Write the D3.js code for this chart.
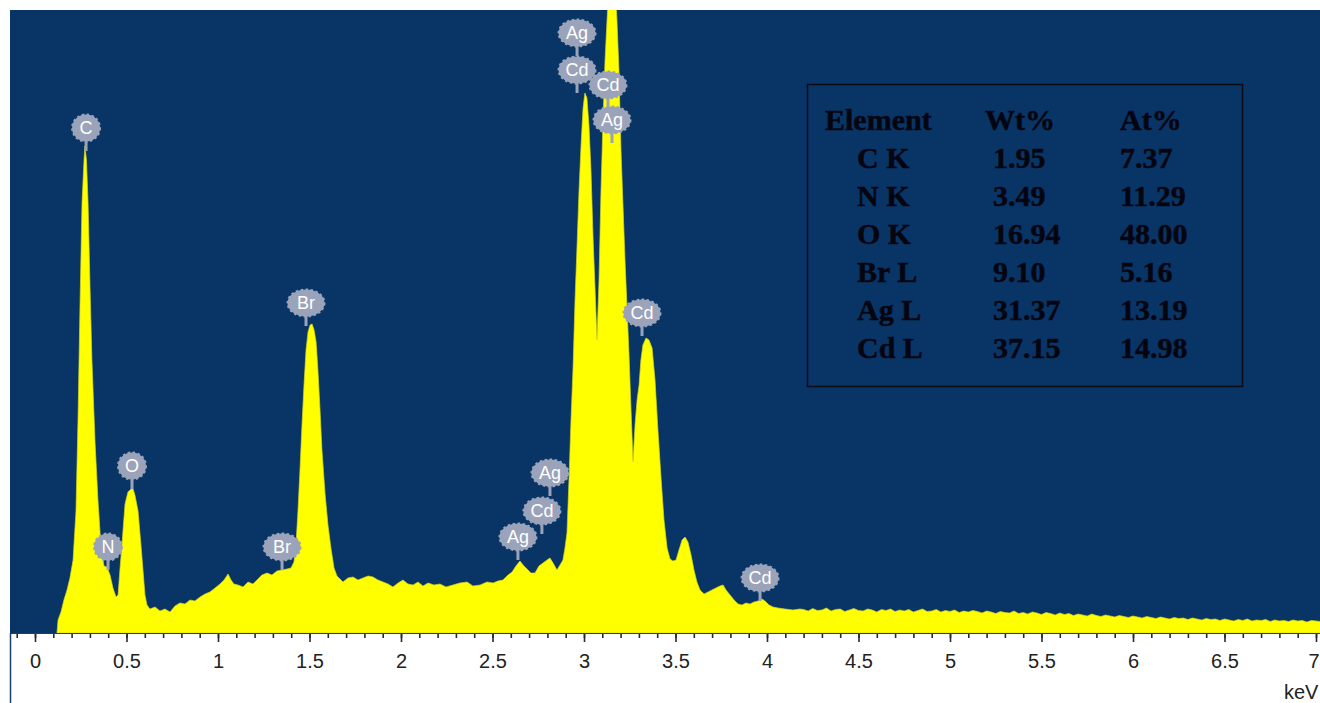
<!DOCTYPE html>
<html>
<head>
<meta charset="utf-8">
<script src="https://cdn.jsdelivr.net/npm/d3@7"></script>
<style>
  html, body { margin: 0; padding: 0; background: #fff; }
  svg { display: block; }
</style>
</head>
<body>
<div id="chart"></div>
<script>
// EDS spectrum: [keV, counts]
const spectrum = [
  [0.120, 0], [0.126, 130], [0.142, 210], [0.158, 330], [0.175, 430], [0.191, 550],
  [0.208, 730], [0.224, 1220], [0.235, 2130], [0.246, 3280], [0.257, 4300], [0.268, 4730],
  [0.273, 4870], [0.281, 4730], [0.290, 4300], [0.301, 3430], [0.311, 2730], [0.328, 1910],
  [0.344, 1330], [0.361, 850], [0.377, 670], [0.393, 660], [0.410, 580], [0.426, 450],
  [0.443, 360], [0.454, 380], [0.464, 630], [0.475, 880], [0.492, 1290], [0.508, 1410],
  [0.525, 1440], [0.536, 1440], [0.546, 1380], [0.563, 1220], [0.579, 880], [0.590, 630],
  [0.601, 380], [0.612, 280], [0.628, 240], [0.656, 260], [0.683, 220], [0.710, 240],
  [0.738, 210], [0.765, 270], [0.792, 300], [0.820, 290], [0.847, 330], [0.874, 320],
  [0.902, 360], [0.929, 390], [0.956, 410], [0.984, 450], [1.011, 490], [1.033, 530],
  [1.055, 590], [1.071, 530], [1.087, 490], [1.109, 480], [1.137, 460], [1.164, 510],
  [1.191, 490], [1.213, 530], [1.240, 580], [1.268, 600], [1.295, 580], [1.322, 620],
  [1.350, 630], [1.377, 640], [1.399, 650], [1.415, 710], [1.426, 880], [1.437, 1220],
  [1.448, 1630], [1.459, 2080], [1.470, 2480], [1.481, 2830], [1.492, 3010], [1.503, 3080],
  [1.514, 3090], [1.525, 3030], [1.536, 2910], [1.546, 2630], [1.557, 2250], [1.568, 1830],
  [1.585, 1390], [1.601, 1080], [1.617, 850], [1.634, 650], [1.650, 570], [1.667, 540],
  [1.683, 510], [1.710, 550], [1.738, 560], [1.765, 530], [1.792, 550], [1.820, 570],
  [1.847, 560], [1.874, 530], [1.902, 510], [1.929, 490], [1.956, 460], [1.984, 500],
  [2.011, 530], [2.038, 490], [2.066, 480], [2.093, 510], [2.120, 470], [2.148, 500],
  [2.180, 480], [2.213, 490], [2.246, 460], [2.284, 480], [2.322, 500], [2.361, 510],
  [2.393, 470], [2.432, 480], [2.470, 510], [2.503, 500], [2.530, 520], [2.557, 530],
  [2.585, 580], [2.607, 610], [2.628, 670], [2.650, 720], [2.672, 670], [2.689, 640],
  [2.710, 600], [2.732, 600], [2.754, 670], [2.776, 700], [2.798, 730], [2.814, 750],
  [2.831, 700], [2.852, 630], [2.869, 680], [2.885, 730], [2.896, 850], [2.907, 1000],
  [2.918, 1530], [2.929, 2130], [2.940, 2640], [2.951, 3330], [2.962, 3870], [2.973, 4430],
  [2.984, 4880], [2.995, 5250], [3.005, 5400], [3.016, 5350], [3.027, 5080], [3.038, 4630],
  [3.049, 3980], [3.060, 3460], [3.071, 2930], [3.082, 3530], [3.093, 4430], [3.104, 5130],
  [3.115, 5730], [3.126, 6130], [3.137, 6530], [3.153, 6830], [3.169, 6530], [3.180, 6130],
  [3.191, 5630], [3.202, 4830], [3.213, 4280], [3.224, 3730], [3.235, 3260], [3.246, 2780],
  [3.257, 2230], [3.268, 1710], [3.279, 2080], [3.290, 2330], [3.301, 2480], [3.311, 2730],
  [3.322, 2880], [3.339, 2950], [3.355, 2930], [3.372, 2850], [3.388, 2530], [3.404, 2030],
  [3.421, 1550], [3.437, 1130], [3.454, 850], [3.470, 740], [3.486, 720], [3.503, 730],
  [3.519, 830], [3.536, 930], [3.552, 960], [3.568, 910], [3.585, 780], [3.601, 630],
  [3.617, 510], [3.634, 430], [3.656, 390], [3.678, 410], [3.699, 430], [3.721, 450],
  [3.743, 470], [3.760, 480], [3.776, 430], [3.798, 380], [3.820, 330], [3.842, 290],
  [3.863, 280], [3.885, 300], [3.907, 290], [3.929, 310], [3.951, 320], [3.973, 340],
  [3.989, 320], [4.011, 280], [4.033, 260], [4.060, 250], [4.098, 240], [4.142, 230],
  [4.180, 240], [4.200, 235], [4.225, 220], [4.250, 245], [4.275, 225], [4.300, 230],
  [4.325, 250], [4.350, 220], [4.375, 235], [4.400, 240], [4.425, 215], [4.450, 230],
  [4.475, 245], [4.500, 225], [4.525, 220], [4.550, 240], [4.575, 230], [4.600, 210],
  [4.625, 235], [4.650, 225], [4.675, 240], [4.700, 215], [4.725, 230], [4.750, 220],
  [4.775, 235], [4.800, 210], [4.825, 225], [4.850, 240], [4.875, 215], [4.900, 220],
  [4.925, 235], [4.950, 210], [4.975, 225], [5.000, 215], [5.025, 230], [5.050, 205],
  [5.075, 220], [5.100, 210], [5.125, 225], [5.150, 215], [5.175, 200], [5.200, 220],
  [5.225, 210], [5.250, 195], [5.275, 215], [5.300, 205], [5.325, 200], [5.350, 220],
  [5.375, 195], [5.400, 205], [5.425, 190], [5.450, 210], [5.475, 200], [5.500, 185],
  [5.525, 205], [5.550, 195], [5.575, 180], [5.600, 200], [5.625, 185], [5.650, 195],
  [5.675, 175], [5.700, 190], [5.725, 180], [5.750, 170], [5.775, 190], [5.800, 175],
  [5.825, 165], [5.850, 180], [5.875, 170], [5.900, 160], [5.925, 175], [5.950, 165],
  [5.975, 155], [6.000, 170], [6.025, 160], [6.050, 150], [6.075, 165], [6.100, 155],
  [6.125, 145], [6.150, 160], [6.175, 150], [6.200, 140], [6.225, 155], [6.250, 145],
  [6.275, 150], [6.300, 135], [6.325, 150], [6.350, 140], [6.375, 130], [6.400, 145],
  [6.425, 135], [6.450, 140], [6.475, 125], [6.500, 140], [6.525, 130], [6.550, 120],
  [6.575, 135], [6.600, 125], [6.625, 140], [6.650, 120], [6.675, 130], [6.700, 125],
  [6.725, 135], [6.750, 115], [6.775, 130], [6.800, 120], [6.825, 125], [6.850, 115],
  [6.875, 130], [6.900, 120], [6.925, 125], [6.950, 110], [6.975, 125], [7.000, 120],
  [7.025, 115], [7.050, 125], [7.075, 115], [7.100, 120]
];

// peak markers: element, energy (keV), height of the bubble (counts)
const peakLabels = [
  ["C", 0.279, 5050], ["N", 0.399, 860], ["O", 0.530, 1670],
  ["Br", 1.350, 860], ["Br", 1.481, 3300],
  ["Ag", 2.639, 960], ["Cd", 2.770, 1220], ["Ag", 2.814, 1600],
  ["Ag", 2.962, 6000], ["Cd", 2.962, 5630],
  ["Cd", 3.131, 5480], ["Ag", 3.153, 5130],
  ["Cd", 3.317, 3200], ["Cd", 3.962, 550]
];

// quantification table
const tableHeader = ["Element", "Wt%", "At%"];
const tableElements = ["C K", "N K", "O K", "Br L", "Ag L", "Cd L"];
const wtPercent = [1.95, 3.49, 16.94, 9.10, 31.37, 37.15];
const atPercent = [7.37, 11.29, 48.00, 5.16, 13.19, 14.98];

const majorTicks = [0, 0.5, 1, 1.5, 2, 2.5, 3, 3.5, 4, 4.5, 5, 5.5, 6, 6.5, 7];
const minorTicks = d3.range(-1, 72).map(i => i / 10);

const W = 1320, H = 703;
const plot = {left: 10, top: 10, right: 1320, bottom: 633};

const svg = d3.select("#chart").append("svg")
  .attr("width", W)
  .attr("height", H);

const x = d3.scaleLinear().domain([0, 7]).range([35, 1316]);
const y = d3.scaleLinear().domain([0, 6230]).range([plot.bottom, plot.top]);

// background
svg.append("rect")
  .attr("x", plot.left).attr("y", plot.top)
  .attr("width", plot.right - plot.left).attr("height", plot.bottom - plot.top)
  .attr("fill", "#083566");

svg.append("clipPath").attr("id", "clip")
  .append("rect")
  .attr("x", plot.left).attr("y", plot.top)
  .attr("width", plot.right - plot.left).attr("height", plot.bottom - plot.top);

const area = d3.area()
  .x(d => x(d[0]))
  .y0(y(0))
  .y1(d => y(d[1]));

svg.append("path")
  .datum(spectrum)
  .attr("clip-path", "url(#clip)")
  .attr("d", area)
  .attr("fill", "#ffff00")
  .attr("stroke", "#d6d61e")
  .attr("stroke-width", 0.7);

// axis
const axisG = svg.append("g").attr("transform", `translate(0,${plot.bottom})`);
axisG.call(d3.axisBottom(x).tickValues(minorTicks).tickSize(5).tickFormat(""))
  .call(g => g.select(".domain").remove());
axisG.append("g")
  .call(d3.axisBottom(x).tickValues(majorTicks).tickSize(9).tickPadding(12)
    .tickFormat(d => String(d)))
  .call(g => g.select(".domain").remove())
  .call(g => g.selectAll("text")
    .attr("font-family", "Liberation Sans, Arial, sans-serif")
    .attr("font-size", 20)
    .attr("fill", "#222")
    .attr("dx", d => d === 7 ? -2.5 : 0));
axisG.selectAll(".tick line").attr("stroke", "#2a2a2a").attr("stroke-width", 1.6);

svg.append("line")
  .attr("x1", plot.left).attr("x2", plot.right)
  .attr("y1", plot.bottom + 0.5).attr("y2", plot.bottom + 0.5)
  .attr("stroke", "#3a3a3a").attr("stroke-width", 1);
svg.append("line")
  .attr("x1", plot.left + 0.5).attr("x2", plot.left + 0.5)
  .attr("y1", plot.bottom).attr("y2", H)
  .attr("stroke", "#1c3e6e").attr("stroke-width", 1.5);

svg.append("text")
  .attr("x", 1284).attr("y", 699)
  .attr("font-family", "Liberation Sans, Arial, sans-serif")
  .attr("font-size", 20)
  .attr("fill", "#222")
  .text("keV");

// peak label bubbles
const bubbleColor = "#9aa3b9";
const bubbles = svg.append("g")
  .selectAll("g")
  .data(peakLabels)
  .join("g")
    .attr("transform", d => `translate(${x(d[1])},${y(d[2])})`);

bubbles.append("rect")
  .attr("x", -1.5).attr("width", 3)
  .attr("y", 11).attr("height", 12)
  .attr("fill", bubbleColor);

bubbles.append("ellipse")
  .attr("rx", d => d[0].length > 1 ? 18.5 : 14)
  .attr("ry", 13.5)
  .attr("fill", bubbleColor)
  .attr("stroke", bubbleColor)
  .attr("stroke-width", 2)
  .attr("stroke-dasharray", "2.5 2.5");

bubbles.append("text")
  .attr("text-anchor", "middle")
  .attr("dy", "0.36em")
  .attr("font-family", "Liberation Sans, Arial, sans-serif")
  .attr("font-size", 18)
  .attr("fill", "#ffffff")
  .text(d => d[0]);

// quantification box
const box = svg.append("g");
box.append("rect")
  .attr("x", 807.5).attr("y", 84.5)
  .attr("width", 435).attr("height", 302)
  .attr("fill", "#083566")
  .attr("stroke", "#0a0a14")
  .attr("stroke-width", 1.5);

const tableFont = "Liberation Serif, 'Times New Roman', serif";
const rowY = d3.scaleLinear().domain([0, 6]).range([130, 358]);
const colX = [825, 985, 1120];
const valX = [857, 993, 1120];

box.selectAll("text.head")
  .data(tableHeader)
  .join("text")
    .attr("class", "head")
    .attr("x", (d, i) => colX[i])
    .attr("y", rowY(0))
    .text(d => d);

const rows = tableElements.map((el, i) => [el, wtPercent[i].toFixed(2), atPercent[i].toFixed(2)]);
rows.forEach((r, i) => {
  box.selectAll(null)
    .data(r)
    .join("text")
      .attr("x", (d, j) => valX[j])
      .attr("y", rowY(i + 1))
      .text(d => d);
});

box.selectAll("text")
  .attr("font-family", tableFont)
  .attr("font-weight", "bold")
  .attr("font-size", 30)
  .attr("fill", "#050510")
  .attr("stroke", "#050510")
  .attr("stroke-width", 0.5);
</script>
</body>
</html>
